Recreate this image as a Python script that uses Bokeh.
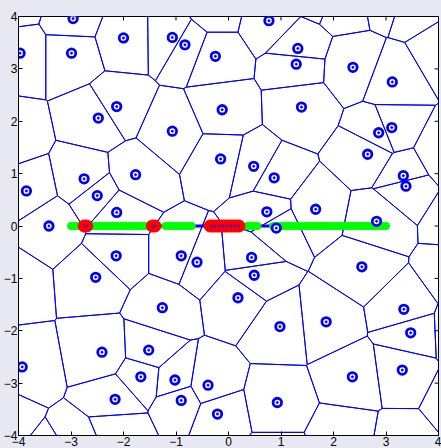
import numpy as np
from bokeh.plotting import figure
from bokeh.models import FixedTicker, CustomJSTickFormatter, Range1d
from bokeh.embed import file_html
from bokeh.resources import INLINE

# ---- data: Voronoi generator sites visible in the chart ----
site_x = [-2.96, -3.97, -2.99, -2.00, -1.07, -0.83, -0.25, 0.77, 1.32, 1.29,
          2.37, 3.12, -2.13, -2.48, -1.07, -0.12, 1.39, 3.11, 2.86, 2.65,
          -0.15, -2.75, -1.77, -3.85, -2.50, -2.13, -3.42, 0.48, 0.87, 3.33,
          3.38, 0.73, 1.66, 2.82, 0.91, -2.14, -0.90, -0.60, -2.53, 0.44,
          0.49, 2.54, 0.18, -1.26, -3.93, -2.41, -1.52, -1.67, -1.02, -0.39,
          -2.16, -0.90, -0.21, 0.98, 1.86, 3.34, 3.47, 2.36, 3.31, 0.93]
site_y = [3.96, 3.30, 3.30, 3.59, 3.60, 3.46, 3.24, 3.92, 3.39, 3.09,
          3.03, 2.75, 2.28, 2.06, 1.81, 2.22, 2.27, 1.88, 1.78, 1.37,
          1.28, 0.90, 0.98, 0.67, 0.58, 0.26, 0.00, 1.14, 0.92, 0.96,
          0.76, 0.27, 0.32, 0.09, -0.04, -0.57, -0.57, -0.69, -0.98, -0.60,
          -0.94, -0.78, -1.37, -1.56, -2.69, -2.41, -2.37, -2.88, -2.94, -3.04,
          -3.31, -3.33, -3.59, -1.92, -1.83, -1.59, -2.04, -2.88, -2.75, -3.37]

# sites lying outside the visible window (their cells reach into it)
outer_x = [-4.10, -0.25, 1.77, 2.16, 3.00, 3.56, 4.13, 4.08, 4.37, 4.30,
           4.40, 4.40, 3.30, 2.20, 0.93, -2.12, -2.86, -3.27, -4.35, -4.13, -4.20]
outer_y = [4.30, 4.16, 4.47, 4.30, 4.45, 4.27, 3.34, 1.38, 0.14, -0.90,
           -2.00, -3.30, -4.22, -4.03, -4.51, -3.91, -4.22, -4.47, -3.62, -1.10, 1.69]

# ---- path along y = 0 ----
path_start, path_end, path_step = -3.0, 3.0, 0.05
green_ranges = [(-3.00, -2.80), (-2.65, -1.50), (-1.20, -0.70), (0.35, 0.55), (0.85, 3.00)]
red_ranges = [(-2.75, -2.70), (-1.45, -1.40), (-0.35, 0.20)]

ticks = [-4, -3, -2, -1, 0, 1, 2, 3, 4]
lo_lim, hi_lim = -4, 4

# ---- Voronoi cells by half-plane clipping ----
def clip(poly, a, b, c):
    out = []
    n = len(poly)
    for k in range(n):
        P = poly[k]
        Q = poly[(k + 1) % n]
        fp = a * P[0] + b * P[1] - c
        fq = a * Q[0] + b * Q[1] - c
        if fp <= 0:
            out.append(P)
        if (fp < 0 < fq) or (fq < 0 < fp):
            t = fp / (fp - fq)
            out.append((P[0] + t * (Q[0] - P[0]), P[1] + t * (Q[1] - P[1])))
    return out

all_x = list(site_x) + list(outer_x)
all_y = list(site_y) + list(outer_y)
pts = np.column_stack([all_x, all_y])
B = 9.0
edge_xs, edge_ys = [], []
for i in range(len(pts)):
    poly = [(-B, -B), (B, -B), (B, B), (-B, B)]
    pi = pts[i]
    for j in range(len(pts)):
        if i == j:
            continue
        pj = pts[j]
        a, b = pj - pi
        c = (pj @ pj - pi @ pi) / 2.0
        poly = clip(poly, a, b, c)
        if not poly:
            break
    if poly:
        edge_xs.append([q[0] for q in poly] + [poly[0][0]])
        edge_ys.append([q[1] for q in poly] + [poly[0][1]])

# ---- figure ----
p = figure(width=441, height=448, x_range=Range1d(lo_lim, hi_lim), y_range=Range1d(lo_lim, hi_lim),
           output_backend="svg", toolbar_location=None,
           background_fill_color="white", border_fill_color="#e8e8f2",
           min_border_left=0, min_border_right=3, min_border_top=16, min_border_bottom=0)
p.grid.visible = False
p.outline_line_color = "black"
p.outline_line_width = 1

fmt = CustomJSTickFormatter(code="return tick < 0 ? '\\u2212' + Math.abs(tick) : String(tick);")
for ax in (p.xaxis[0], p.yaxis[0]):
    ax.ticker = FixedTicker(ticks=ticks)
    ax.formatter = fmt
    ax.major_tick_in = 4
    ax.major_tick_out = 0
    ax.minor_tick_line_color = None
    ax.axis_line_color = "black"
    ax.major_tick_line_color = "black"
    ax.major_label_text_font = "Liberation Sans"
    ax.major_label_text_font_size = "12px"
    ax.major_label_text_color = "black"
    ax.major_label_standoff = 1

# inward ticks on the top and right frame edges
tick_len = 0.075
p.segment(x0=ticks, y0=[hi_lim] * len(ticks), x1=ticks, y1=[hi_lim - tick_len] * len(ticks),
          line_color="black", line_width=1)
p.segment(x0=[hi_lim] * len(ticks), y0=ticks, x1=[hi_lim - tick_len] * len(ticks), y1=ticks,
          line_color="black", line_width=1)

# Voronoi edges
p.multi_line(edge_xs, edge_ys, line_color="#0000ff", line_width=1)

# path
px = np.round(np.arange(path_start, path_end + path_step / 2, path_step), 2)
p.line([path_start, path_end], [0, 0], line_color="#0000ff", line_width=3)
gx = [x for x in px if any(lo - 1e-9 <= x <= hi + 1e-9 for lo, hi in green_ranges)]
rx = [x for x in px if any(lo - 1e-9 <= x <= hi + 1e-9 for lo, hi in red_ranges)]
p.scatter(gx, [0] * len(gx), marker="asterisk", size=8, line_color="#00ff00", line_width=2.5)
p.scatter(rx, [0] * len(rx), marker="circle", size=12, fill_color="#ff0000", line_color="#ff0000")
p.scatter(rx, [0] * len(rx), marker="dash", angle=np.pi / 2, size=3, line_color="#0000ff", line_width=1)

# sites
p.scatter(site_x, site_y, marker="circle", size=8.5, fill_color="white", line_color="#0000ff", line_width=2.8)
p.scatter(site_x, site_y, marker="circle", size=2, fill_color="#0000ff", line_color="#0000ff")

html = file_html(p, INLINE)
html = html.replace("</head>", "<style>html, body { background-color: #e8e8f2; }</style></head>", 1)
open("out.html", "w").write(html)
